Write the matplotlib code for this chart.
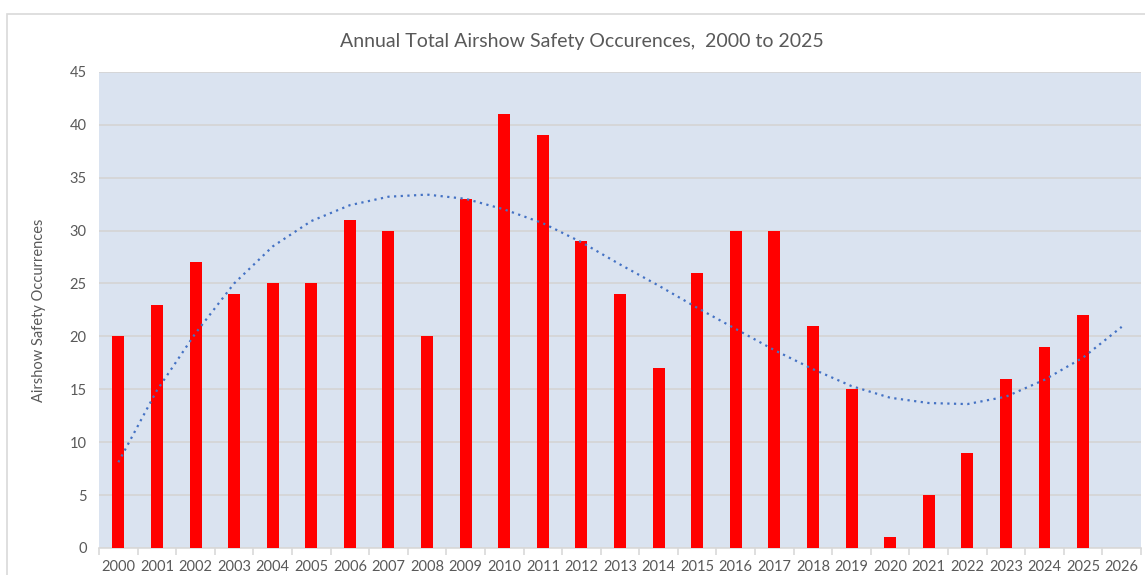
import numpy as np
import matplotlib.pyplot as plt
from matplotlib.patches import Rectangle

# annual occurrences
years = list(range(2000, 2027))
counts = [20, 23, 27, 24, 25, 25, 31, 30, 20, 33, 41, 39, 29, 24, 17, 26,
          30, 30, 21, 15, 1, 5, 9, 16, 19, 22]
# dotted polynomial trendline, read at each year (2000-2026)
trend = [8.1, 14.9, 20.3, 25.0, 28.5, 30.9, 32.4, 33.2, 33.4, 33.0, 32.0,
         30.7, 28.9, 26.8, 24.8, 22.7, 20.7, 18.7, 16.9, 15.3, 14.2, 13.7,
         13.6, 14.3, 15.9, 18.0, 20.9]

plt.rcParams['font.family'] = ['Lato', 'DejaVu Sans']

fig = plt.figure(figsize=(11.45, 5.75), dpi=100)
ax = fig.add_axes([0.0865, 0.047, 0.91, 0.828])

# chart border like the excel chart area
fig.patches.append(Rectangle((7 / 1145, -0.01), 1.2, 1 - 14 / 575 + 0.01,
                             transform=fig.transFigure, fill=False,
                             edgecolor='#d9d9d9', linewidth=1.2))

x = np.arange(len(years))
ax.bar(x[:len(counts)], counts, width=0.31, color='#ff0000', zorder=3)
ax.plot(x[:len(trend)], trend, linestyle=(0, (1, 2)), color='#4472c4',
        linewidth=1.6, zorder=4)

ax.set_facecolor('#dae3f0')
ax.set_xlim(-0.5, len(years) - 0.5)
ax.set_ylim(0, 45)
ax.set_yticks(range(0, 46, 5))
ax.grid(axis='y', color='#d4d4d4', linewidth=1.2, zorder=0)
ax.set_axisbelow(True)

ax.set_xticks(x)
ax.set_xticklabels([str(y) for y in years])
ax.set_xticks(np.arange(-0.5, len(years), 1), minor=True)
ax.tick_params(axis='x', which='major', length=0, pad=9, labelsize=10.5, labelcolor='#595959')
ax.tick_params(axis='x', which='minor', length=5, color='#d9d9d9', width=1.2)
ax.tick_params(axis='y', length=0, pad=9, labelsize=10.5, labelcolor='#595959')

for s in ['top', 'right', 'left']:
    ax.spines[s].set_visible(False)
ax.spines['bottom'].set_color('#d9d9d9')
ax.spines['bottom'].set_linewidth(1.2)

ax.set_ylabel('Airshow Safety Occurrences', fontsize=10.5, color='#595959', labelpad=17)
fig.text(0.508, 0.927, 'Annual Total Airshow Safety Occurences,  2000 to 2025',
         ha='center', va='center', fontsize=14, color='#595959')

fig.savefig('out.png', dpi=100, facecolor='white')
